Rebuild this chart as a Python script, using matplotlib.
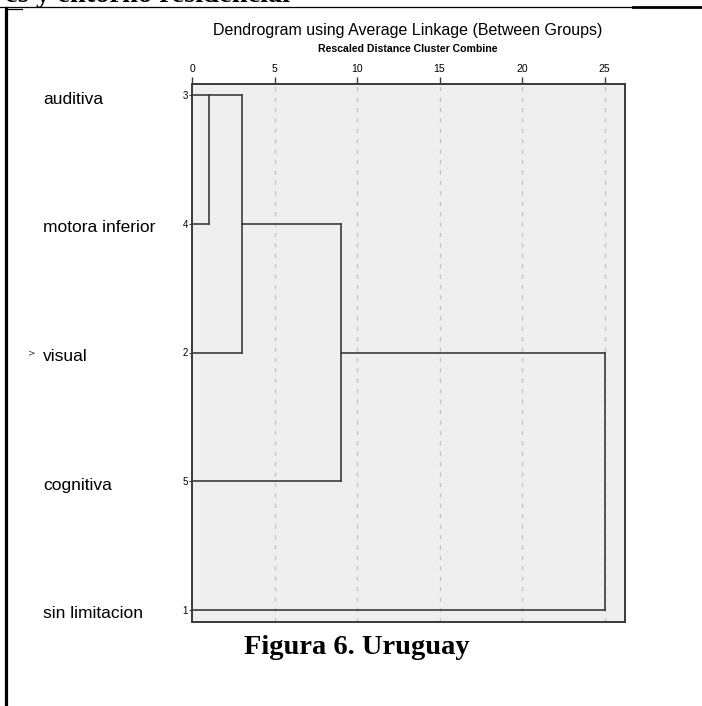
import matplotlib
matplotlib.use("Agg")
import matplotlib.pyplot as plt
from matplotlib.transforms import blended_transform_factory

# leaves, top to bottom
labels = ['auditiva', 'motora inferior', 'visual', 'cognitiva', 'sin limitacion']
case_ids = [3, 4, 2, 5, 1]

# merges: (row of first child, its start distance, row of second child, its start distance,
#          merge distance, row where the merged cluster continues)
merges = [
    (0, 0, 1, 0, 1, 0),
    (0, 1, 2, 0, 3, 1),
    (1, 3, 3, 0, 9, 2),
    (2, 9, 4, 0, 25, 3),
]
xticks = [0, 5, 10, 15, 20, 25]

W, H = 702, 706
fig = plt.figure(figsize=(W / 100, H / 100), dpi=100)


def px(x, y):
    return x / W, 1 - y / H


# page decorations (document cell borders and cut header)
fig.add_artist(plt.Line2D([0, 633 / W], [1 - 7 / H] * 2, color='black', lw=0.9))
fig.add_artist(plt.Line2D([633 / W, 1], [1 - 7 / H] * 2, color='black', lw=2.0))
fig.add_artist(plt.Line2D([5.5 / W] * 2, [0, 1 - 8 / H], color='black', lw=2.3))
fig.add_artist(plt.Line2D([5.5 / W, 22 / W], [1 - 9 / H] * 2, color='black', lw=0.9))
fig.text(*px(290, 1.5), 'es y entorno residencial', ha='right', va='baseline',
         family='Liberation Serif', weight='bold', fontsize=20.5)

# dendrogram box
left, top, right, bottom = 192, 84, 625, 622
ax = fig.add_axes([left / W, 1 - bottom / H, (right - left) / W, (bottom - top) / H])
ax.set_facecolor('#efefef')
xmax = 25 * (right - left) / (604.5 - left)
ax.set_xlim(0, xmax)
step = (610 - 95) / 4
ax.set_ylim(4 + (bottom - 610) / step, -(95 - top) / step)

for s in ax.spines.values():
    s.set_color('#3a3a3a')
    s.set_linewidth(1.4)

ax.xaxis.tick_top()
ax.set_xticks(xticks)
ax.set_xticklabels([str(t) for t in xticks], family='Liberation Sans', fontsize=7.5)
ax.tick_params(axis='x', length=5, width=1.0, color='#3a3a3a', pad=2)
ax.set_yticks(range(len(labels)))
ax.set_yticklabels([str(c) for c in case_ids], family='Liberation Sans', fontsize=7)
ax.tick_params(axis='y', length=2, width=0.8, color='#3a3a3a', pad=1)

for t in xticks[1:]:
    ax.axvline(t, color='#c4c4c4', lw=1.0, ls=(0, (3, 4.5)), zorder=1)

lc = '#3c3c3c'
for r0, d0, r1, d1, d, rout in merges:
    ax.plot([d0, d], [r0, r0], color=lc, lw=1.2, zorder=3)
    ax.plot([d1, d], [r1, r1], color=lc, lw=1.2, zorder=3)
    ax.plot([d, d], [r0, r1], color=lc, lw=1.2, zorder=3)

# leaf names
tr = blended_transform_factory(fig.transFigure, ax.transData)
for i, name in enumerate(labels):
    ax.text(43 / W, i + 4 / step, name, transform=tr, ha='left', va='center',
            family='Liberation Sans', fontsize=12.5, color='black')
ax.text(28 / W, 2, '>', transform=tr, ha='left', va='center',
        family='DejaVu Sans', fontsize=6.5, color='#333333')

fig.text(*px(408, 30), 'Dendrogram using Average Linkage (Between Groups)',
         ha='center', va='center', family='Liberation Sans', fontsize=11.5)
fig.text(*px(408, 49), 'Rescaled Distance Cluster Combine',
         ha='center', va='center', family='Liberation Sans', weight='bold', fontsize=7.6)

fig.text(*px(357, 648), 'Figura 6. Uruguay', ha='center', va='center',
         family='Liberation Serif', weight='bold', fontsize=20.5)

fig.savefig('out.png', dpi=100)
